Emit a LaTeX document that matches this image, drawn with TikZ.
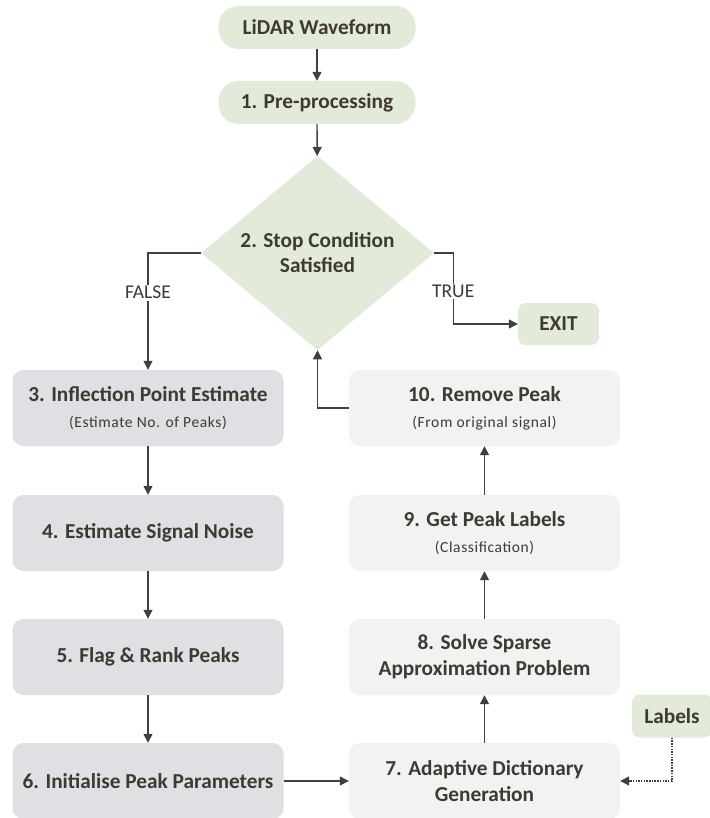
\documentclass[tikz,border=0pt]{standalone}
\usepackage{fontspec}
\setmainfont{Carlito}
\usetikzlibrary{shapes.geometric,arrows.meta}
\definecolor{inkc}{RGB}{62,58,48}
\definecolor{linec}{RGB}{64,64,64}
\definecolor{greenc}{RGB}{226,235,218}
\definecolor{darkgrey}{RGB}{224,223,228}
\definecolor{lightgrey}{RGB}{242,242,242}
\tikzset{
  base/.style={rectangle, inner sep=0pt, text=inkc, align=center,
    font=\fontsize{21.3}{26}\selectfont\bfseries},
  termbox/.style={base, fill=greenc, rounded corners=20pt,
    minimum width=197pt, minimum height=43pt},
  smallgreen/.style={base, fill=greenc, rounded corners=8pt},
  leftbox/.style={base, fill=darkgrey, rounded corners=11pt,
    minimum width=271pt, minimum height=76pt},
  rightbox/.style={base, fill=lightgrey, rounded corners=11pt,
    minimum width=271pt, minimum height=76pt},
  decide/.style={diamond, fill=greenc, inner sep=0pt, text=inkc, align=center,
    minimum width=233pt, minimum height=185pt,
    font=\fontsize{21.3}{25}\selectfont\bfseries},
  flow/.style={draw=linec, line width=1.3pt,
    -{Triangle[length=9pt,width=9pt]}},
  dotflow/.style={flow, dash pattern=on 1.5pt off 1.2pt},
  branch/.style={fill=white, text=inkc, inner sep=1.5pt,
    font=\fontsize{19.5}{22}\selectfont},
}
\newcommand{\subline}[1]{\\[0pt]{\fontsize{15.5}{18}\selectfont\mdseries\addfontfeature{LetterSpace=4}#1}}
\begin{document}
\begin{tikzpicture}[x=1pt,y=-1pt]
\useasboundingbox[fill=white] (0,0) rectangle (709,818);

% start of the flow and the decision
\node[termbox] (wave) at (317,27.5) {LiDAR Waveform};
\node[termbox] (pre) at (317,102.5) {1. Pre-processing};
\node[decide] (stop) at (317.5,253) {2. Stop Condition\\Satisfied};
\node[smallgreen, minimum width=81pt, minimum height=42pt] (exit) at (558.5,324) {EXIT};

% left column
\node[leftbox] (infl) at (148,408) {3. Inflection Point Estimate\subline{(Estimate No. of Peaks)}};
\node[leftbox] (noise) at (148,533) {4. Estimate Signal Noise};
\node[leftbox] (flag) at (148,657) {5. Flag \& Rank Peaks};
\node[leftbox] (init) at (148,781) {6. Initialise Peak Parameters};

% right column
\node[rightbox] (remove) at (484.5,408) {10. Remove Peak\subline{(From original signal)}};
\node[rightbox] (getlab) at (484.5,533) {9. Get Peak Labels\subline{(Classification)}};
\node[rightbox] (solve) at (484.5,657) {8. Solve Sparse\\Approximation Problem};
\node[rightbox] (dict) at (484.5,781) {7. Adaptive Dictionary\\Generation};
\node[smallgreen, minimum width=80pt, minimum height=43pt] (labels) at (672,716) {Labels};

% connectors
\draw[flow] (wave) -- (pre);
\draw[flow] (pre) -- (stop);
\draw[flow] (stop.west) -| (infl.north)
  node[branch, pos=0.67] {FALSE};
\draw[flow] (stop.east) -- ++(19,0) |- (exit.west)
  node[branch, pos=0.27] {TRUE};
\draw[flow] (infl) -- (noise);
\draw[flow] (noise) -- (flag);
\draw[flow] (flag) -- (init);
\draw[flow] (init) -- (dict);
\draw[flow] (dict) -- (solve);
\draw[flow] (solve) -- (getlab);
\draw[flow] (getlab) -- (remove);
\draw[flow] (remove.west) -| (stop.south);
\draw[dotflow] (labels.south) |- (dict.east);
\end{tikzpicture}
\end{document}
